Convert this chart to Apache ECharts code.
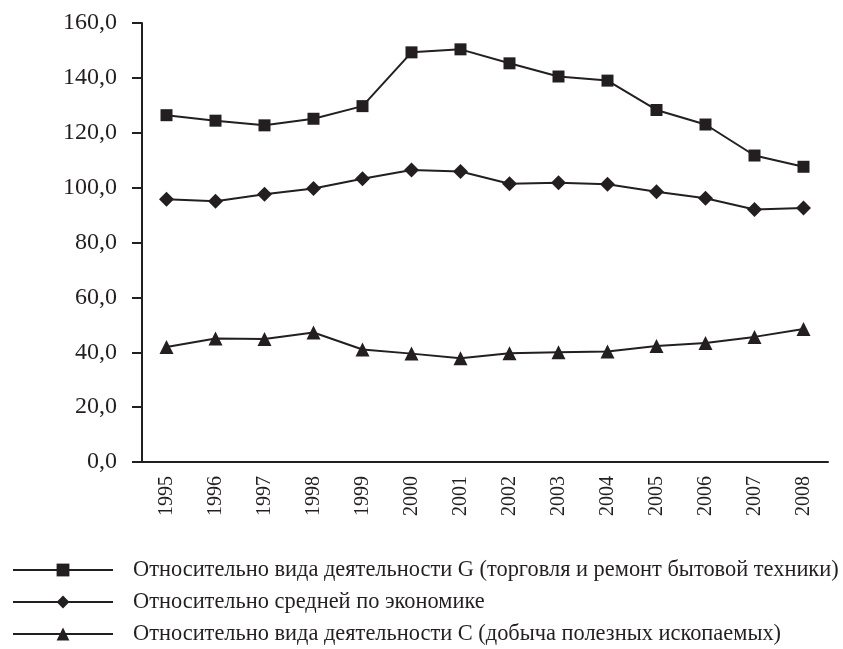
<!DOCTYPE html>
<html>
<head>
<meta charset="utf-8">
<script src="https://cdn.jsdelivr.net/npm/echarts@6/dist/echarts.min.js"></script>
<style>html,body{margin:0;padding:0;background:#fff}#c{width:843px;height:649px}</style>
</head>
<body>
<div id="c"></div>
<script>
const years = ['1995','1996','1997','1998','1999','2000','2001','2002','2003','2004','2005','2006','2007','2008'];
const seriesG = [126.4,124.4,122.7,125.1,129.7,149.3,150.4,145.3,140.5,139.0,128.3,123.0,111.7,107.6];
const seriesAvg = [95.8,95.0,97.6,99.7,103.2,106.4,105.9,101.4,101.8,101.2,98.5,96.1,92.0,92.6];
const seriesC = [41.9,45.0,44.8,47.2,41.0,39.5,37.8,39.6,40.0,40.3,42.3,43.4,45.6,48.5];
const names = [
  'Относительно вида деятельности G (торговля и ремонт бытовой техники)',
  'Относительно средней по экономике',
  'Относительно вида деятельности C (добыча полезных ископаемых)'
];
const ink = '#231f20';
const font = 'Liberation Serif';
const chart = echarts.init(document.getElementById('c'));
function mk(name, data, symbol, size) {
  return {
    name, type: 'line', data, symbol, symbolSize: size, showSymbol: true,
    lineStyle: {color: ink, width: 2}, itemStyle: {color: ink},
    animation: false
  };
}
chart.setOption({
  animation: false,
  grid: {left: 142, right: 15, top: 23, bottom: 187},
  xAxis: {
    type: 'category', data: years, boundaryGap: true,
    axisLine: {lineStyle: {color: ink, width: 2}},
    axisTick: {show: false},
    axisLabel: {rotate: 90, margin: 14, color: ink, fontFamily: font, fontSize: 20, interval: 0}
  },
  yAxis: {
    type: 'value', min: 0, max: 160, interval: 20,
    splitLine: {show: false},
    axisLine: {show: true, lineStyle: {color: ink, width: 2}},
    axisTick: {show: true, length: 10, lineStyle: {color: ink, width: 2}},
    axisLabel: {margin: 25, color: ink, fontFamily: font, fontSize: 24,
      formatter: (v) => v.toFixed(1).replace('.', ',')}
  },
  legend: {
    orient: 'vertical', left: 12, top: 559, padding: 0, height: 90,
    itemWidth: 100, itemHeight: 16, itemGap: 10,
    textStyle: {color: ink, fontFamily: font, fontSize: 22.4, lineHeight: 20, padding: [0,0,0,15]},
    data: names
  },
  series: [
    mk(names[0], seriesG, 'rect', 12),
    mk(names[1], seriesAvg, 'diamond', 15),
    mk(names[2], seriesC, 'triangle', 14)
  ]
});
</script>
</body>
</html>
